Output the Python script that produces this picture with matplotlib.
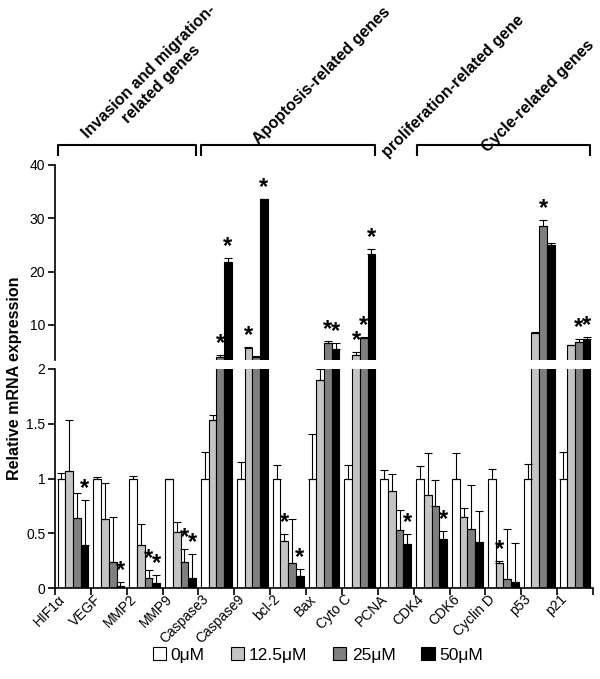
#!/usr/bin/env python3
"""Relative mRNA expression of marker genes under four doses (broken y axis)."""

import matplotlib
matplotlib.use("Agg")
import matplotlib.pyplot as plt
import matplotlib.transforms as mtransforms
from matplotlib.patches import Patch
import numpy as np

plt.rcParams["font.family"] = ["Liberation Sans", "DejaVu Sans"]

genes = ["HIF1\u03b1", "VEGF", "MMP2", "MMP9", "Caspase3", "Caspase9", "bcl-2",
         "Bax", "Cyto C", "PCNA", "CDK4", "CDK6", "Cyclin D", "p53", "p21"]
doses = ["0\u03bcM", "12.5\u03bcM", "25\u03bcM", "50\u03bcM"]

dose_0 = [1.0] * 15
dose_0_err = [0.05, 0.01, 0.02, 0.0, 0.24, 0.15, 0.12, 0.41, 0.12, 0.08,
              0.11, 0.23, 0.09, 0.13, 0.24]
dose_12 = [1.07, 0.63, 0.39, 0.51, 1.53, 5.74, 0.43, 1.90, 4.37, 0.89,
           0.85, 0.65, 0.23, 8.5, 6.2]
dose_12_err = [0.46, 0.33, 0.19, 0.09, 0.05, 0.05, 0.06, 0.10, 0.63, 0.15,
               0.38, 0.08, 0.02, 0.10, 0.10]
dose_25 = [0.64, 0.24, 0.09, 0.24, 4.06, 3.94, 0.23, 6.56, 7.6, 0.53,
           0.75, 0.54, 0.085, 28.6, 6.75]
dose_25_err = [0.23, 0.41, 0.07, 0.12, 0.34, 0.26, 0.40, 0.34, 0.1, 0.18,
               0.24, 0.40, 0.45, 1.0, 0.6]
dose_50 = [0.39, 0.015, 0.05, 0.09, 21.8, 33.6, 0.11, 5.44, 23.4, 0.40,
           0.45, 0.42, 0.055, 25.0, 7.4]
dose_50_err = [0.41, 0.04, 0.07, 0.22, 0.8, 0.1, 0.06, 1.26, 0.9, 0.09,
               0.07, 0.28, 0.36, 0.4, 0.4]

# (gene index, dose index) pairs marked with an asterisk
stars = [(0, 3), (1, 3), (2, 2), (2, 3), (3, 2), (3, 3), (4, 2), (4, 3),
         (5, 1), (5, 3), (6, 1), (6, 3), (7, 2), (7, 3), (8, 1), (8, 2),
         (8, 3), (9, 3), (10, 3), (12, 1), (13, 2), (14, 2), (14, 3)]

# gene groups: (label, first gene, last gene, draw bracket)
groups = [("Invasion and migration-\nrelated genes", 0, 3, True),
          ("Apoptosis-related genes", 4, 8, True),
          ("proliferation-related gene", 9, 9, False),
          ("Cycle-related genes", 10, 14, True)]

values = np.array([dose_0, dose_12, dose_25, dose_50])
errors = np.array([dose_0_err, dose_12_err, dose_25_err, dose_50_err])
colors = ["#ffffff", "#c4c4c4", "#7f7f7f", "#000000"]

W, H = 600, 679
fig = plt.figure(figsize=(W / 100, H / 100), dpi=100)
ax_lo = fig.add_axes([55 / W, 1 - 588 / H, 538 / W, 219 / H])
ax_hi = fig.add_axes([55 / W, 1 - 360 / H, 538 / W, 195 / H])

x = np.arange(len(genes))
bw = 0.215
for ax in (ax_lo, ax_hi):
    for k in range(4):
        xs = x + (k - 1.5) * bw
        ax.bar(xs, values[k], bw, color=colors[k], edgecolor="black", linewidth=0.8,
               yerr=[np.zeros(len(genes)), errors[k]], capsize=2.6,
               error_kw=dict(elinewidth=0.8, capthick=0.8, ecolor="black"), zorder=2)
    ax.set_xlim(-0.5, len(genes) - 0.5)
    for s in ("top", "right"):
        ax.spines[s].set_visible(False)
    ax.spines["left"].set_linewidth(1.2)
    ax.spines["bottom"].set_linewidth(1.2)
    ax.tick_params(axis="y", direction="out", length=5, width=1.2, labelsize=10, pad=2)

ax_lo.set_ylim(0, 2)
ax_lo.set_yticks([0, 0.5, 1, 1.5, 2])
ax_lo.set_yticklabels(["0", "0.5", "1", "1.5", "2"])
ax_lo.set_xticks(np.arange(-0.5, len(genes)), minor=False)
ax_lo.set_xticklabels([])
ax_lo.tick_params(axis="x", direction="out", length=5, width=1.2)
ax_lo.set_xticks(x - 0.15, minor=True)
ax_lo.set_xticklabels(genes, minor=True, rotation=45, ha="right", fontsize=10)
ax_lo.tick_params(axis="x", which="minor", length=0, pad=3)

ax_hi.set_ylim(3.43, 40)
ax_hi.set_yticks([10, 20, 30, 40])
ax_hi.spines["bottom"].set_visible(False)
ax_hi.set_xticks([])

for gi, di in stars:
    val = values[di, gi] + errors[di, gi]
    ax = ax_hi if values[di, gi] > 2 else ax_lo
    ax.annotate("*", (x[gi] + (di - 1.5) * bw, val), xytext=(0, 0),
                textcoords="offset points", ha="center", va="bottom",
                fontsize=17, fontweight="bold", annotation_clip=False)

# group brackets above the plot
trans = mtransforms.blended_transform_factory(ax_hi.transData, ax_hi.transAxes)
label_pos = [(155, 78), (322, 76), (453, 86), (538, 96)]
for (label, g0, g1, bracket), (px, py) in zip(groups, label_pos):
    if bracket:
        xa, xb = g0 - 0.42, g1 + 0.42
        ax_hi.plot([xa, xa, xb, xb], [1.05, 1.10, 1.10, 1.05], color="black",
                   lw=1.5, transform=trans, clip_on=False)
    fig.text(px / W, 1 - py / H, label, rotation=45, rotation_mode="anchor",
             ha="center", va="center", multialignment="center",
             fontsize=11.5, fontweight="bold")

fig.text(15 / W, 1 - 378 / H, "Relative mRNA expression", rotation=90,
         ha="center", va="center", fontsize=11.5, fontweight="bold")

handles = [Patch(facecolor=c, edgecolor="black", linewidth=0.8) for c in colors]
fig.legend(handles, doses, loc="center", bbox_to_anchor=(318 / W, 1 - 655 / H),
           ncol=4, frameon=False, fontsize=12.5, handlelength=0.75, handleheight=0.75,
           handletextpad=0.3, columnspacing=1.5)

fig.savefig("out.png", dpi=100)
